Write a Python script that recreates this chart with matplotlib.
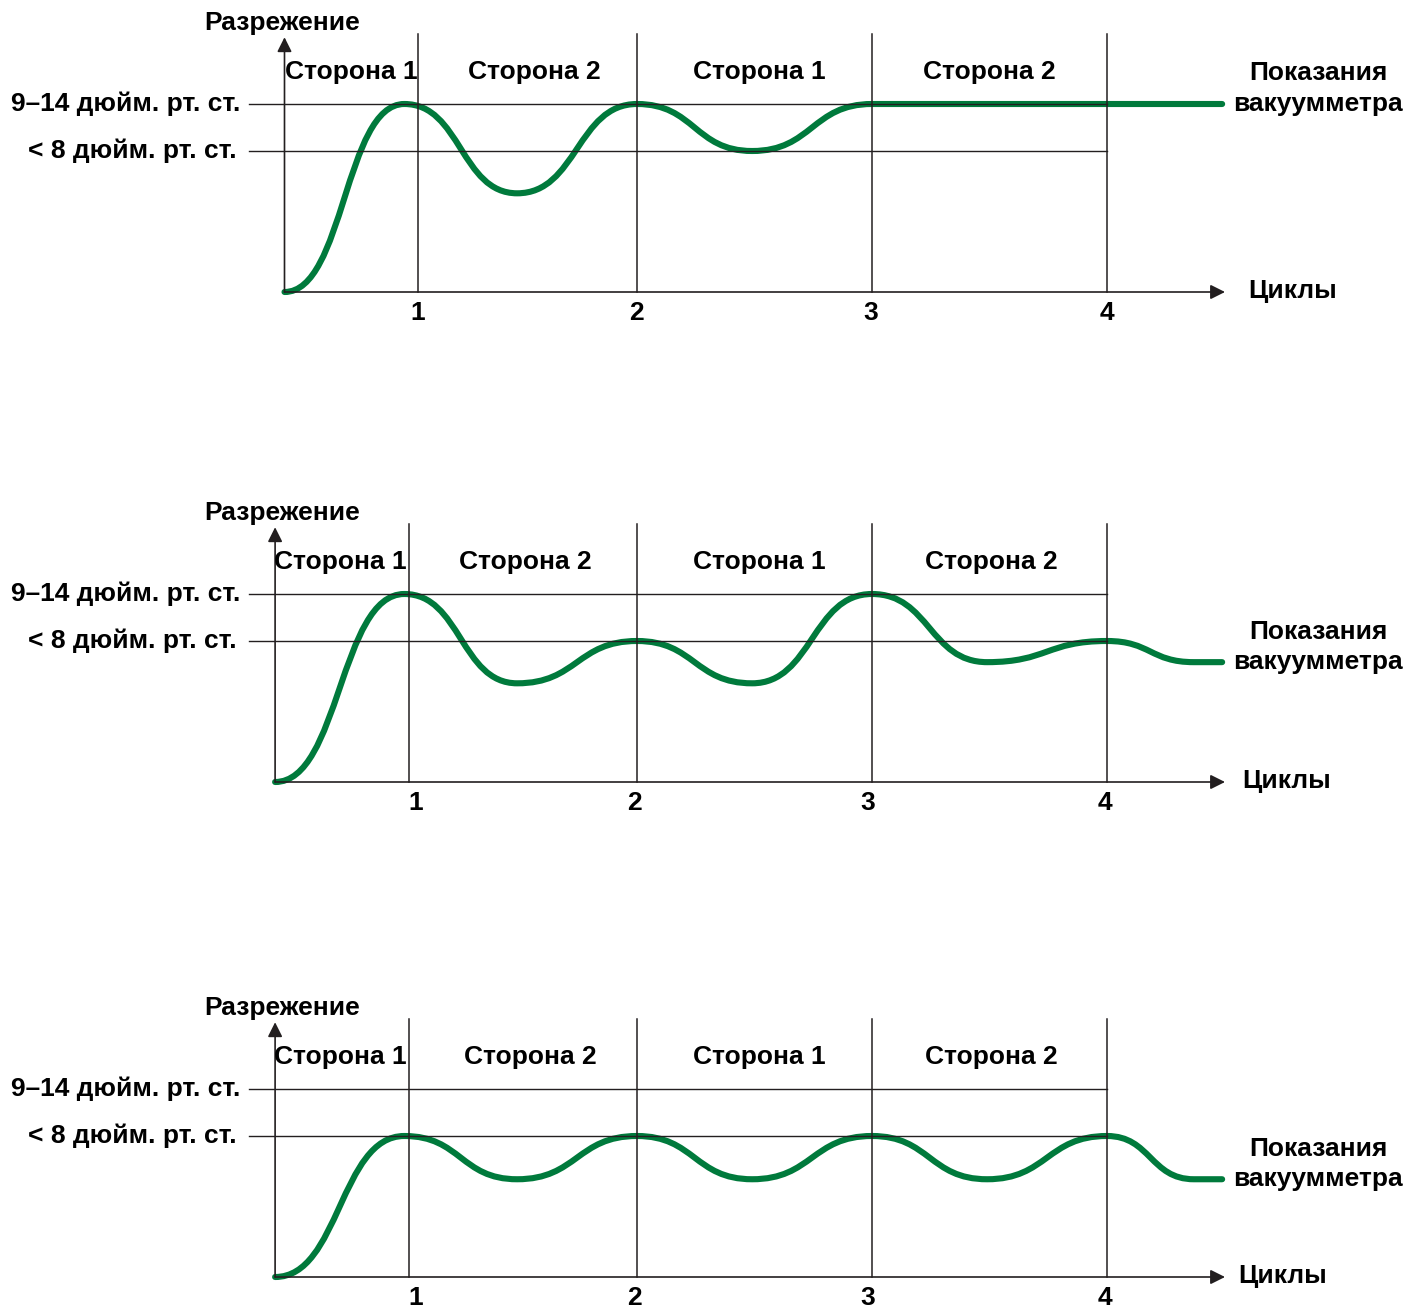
import matplotlib
matplotlib.use("Agg")
import matplotlib.pyplot as plt
from matplotlib.path import Path
from matplotlib.patches import PathPatch

plt.rcParams["font.family"] = ["Liberation Sans", "DejaVu Sans"]
plt.rcParams["font.weight"] = "bold"

GREEN = "#007a3c"
INK = "#231f20"

# shared labels
tick_labels = ["1", "2", "3", "4"]
side_labels = ["Сторона 1", "Сторона 2", "Сторона 1", "Сторона 2"]
level_labels = ["9–14 дюйм. рт. ст.", "< 8 дюйм. рт. ст."]
level_values = [4.0, 3.0]
y_title = "Разрежение"
x_title = "Циклы"
curve_title = "Показания\nвакуумметра"

# cycle boundaries (in cycles)
top_bounds = [1.07, 2.0, 3.0, 4.0]
low_bounds = [1.03, 2.0, 3.0, 4.0]

# turning points of the gauge reading in each panel
top_x = [0.50, 1.01, 1.49, 2.0, 2.49, 3.0, 4.49]
top_y = [0.0, 4.0, 2.1, 4.0, 3.0, 4.0, 4.0]
mid_x = [0.46, 1.01, 1.49, 2.0, 2.49, 3.0, 3.49, 4.0, 4.37, 4.49]
mid_y = [0.0, 4.0, 2.1, 3.0, 2.1, 4.0, 2.55, 3.0, 2.55, 2.55]
bot_x = [0.46, 1.01, 1.49, 2.0, 2.49, 3.0, 3.49, 4.0, 4.37, 4.49]
bot_y = [0.0, 3.0, 2.08, 3.0, 2.08, 3.0, 2.08, 3.0, 2.08, 2.08]

W, H = 1424, 1311
X0_PX, CYCLE_PX, UNIT_PX = 167, 235, 47


def smooth_path(xs, ys, k=0.5):
    verts = [(xs[0], ys[0])]
    codes = [Path.MOVETO]
    for i in range(1, len(xs)):
        dx = xs[i] - xs[i - 1]
        verts += [(xs[i - 1] + k * dx, ys[i - 1]), (xs[i] - k * dx, ys[i]), (xs[i], ys[i])]
        codes += [Path.CURVE4] * 3
    return Path(verts, codes)


def cx(px):
    return (px - X0_PX) / CYCLE_PX


def draw_panel(fig, base_px, origin, bounds, xs, ys, side_px, tick_px, cyc_px):
    top_px, bot_px = base_px - 300, base_px + 34
    ax = fig.add_axes([0, 1 - bot_px / H, 1, (bot_px - top_px) / H])
    ax.set_xlim(cx(0), cx(W))
    ax.set_ylim(-(bot_px - base_px) / UNIT_PX, (base_px - top_px) / UNIT_PX)
    ax.axis("off")

    # level lines
    for v in level_values:
        ax.plot([cx(249), 4.0], [v, v], color=INK, lw=1.0)
    # cycle boundaries
    for b in bounds:
        ax.plot([b, b], [0, 5.5], color=INK, lw=1.1)
    # axes with arrows
    ax.annotate("", xy=(cx(1225), 0), xytext=(origin, 0),
                arrowprops=dict(arrowstyle="-|>", lw=1.2, color=INK,
                                mutation_scale=22, shrinkA=0, shrinkB=0))
    ax.annotate("", xy=(origin, 5.42), xytext=(origin, 0),
                arrowprops=dict(arrowstyle="-|>", lw=1.2, color=INK,
                                mutation_scale=22, shrinkA=0, shrinkB=0))

    # gauge curve
    ax.add_patch(PathPatch(smooth_path(xs, ys), fill=False, edgecolor=GREEN,
                           lw=4.4, capstyle="round", joinstyle="round"))

    fs = 19
    for lab, v, px in zip(level_labels, level_values, [240, 237]):
        ax.text(cx(px), v, lab, ha="right", va="center", fontsize=fs)
    for lab, px in zip(tick_labels, tick_px):
        ax.text(cx(px), -0.45, lab, ha="center", va="center", fontsize=fs)
    for lab, px in zip(side_labels, side_px):
        ax.text(cx(px), 4.69, lab, ha="center", va="center", fontsize=fs)
    ax.text(cx(282), 5.72, y_title, ha="center", va="center", fontsize=fs)
    ax.text(cx(cyc_px), 0.02, x_title, ha="left", va="center", fontsize=fs)
    ax.text(cx(1318), ys[-1] + 0.33, curve_title, ha="center", va="center",
            fontsize=fs, linespacing=1.32)


fig = plt.figure(figsize=(W / 100, H / 100), dpi=100)
draw_panel(fig, 292, top_x[0], top_bounds, top_x, top_y,
           [351, 534, 759, 989], [418, 636, 871, 1107], 1248)
draw_panel(fig, 782, mid_x[0], low_bounds, mid_x, mid_y,
           [340, 525, 759, 991], [416, 634, 868, 1105], 1242)
draw_panel(fig, 1277, bot_x[0], low_bounds, bot_x, bot_y,
           [340, 530, 759, 991], [416, 634, 868, 1105], 1238)
fig.savefig("out.png", dpi=100)
